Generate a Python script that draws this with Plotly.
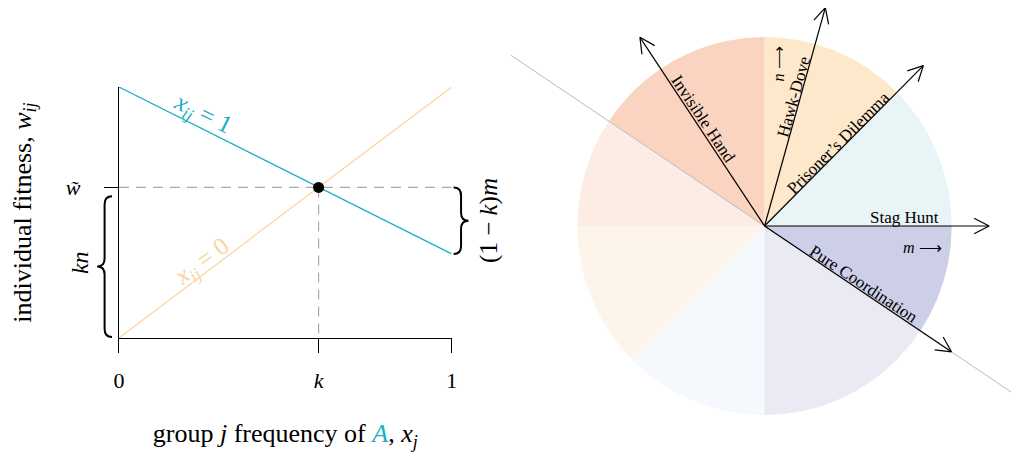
import numpy as np
import plotly.graph_objects as go

# left panel: fitness of an individual against group frequency of A
freq = [0, 1]
w_one = [1, 0.335]      # x_ij = 1
w_zero = [0, 1]         # x_ij = 0
k_star = 0.6
w_star = 0.6

# right panel: regions of the (m, n) plane
sector_from = [0, 45, 90, 146.31, 180, 225, 270, 326.31]
sector_to = [45, 90, 146.31, 180, 225, 270, 326.31, 360]
sector_colors = ["#e8f4f6", "#fde8cb", "#fbd3c1", "#fdece4",
                 "#fef5ea", "#f5f9fd", "#eaeaf5", "#cdcee8"]
games = ["Stag Hunt", "Prisoner’s Dilemma", "Hawk-Dove",
         "Invisible Hand", "Pure Coordination"]
game_angles = [0, 45, 74.3, 123.7, -33.69]
divider_angle = -33.69

W, H = 1019, 457
OFF = 8  # page body margin
CYAN = "#17b1c1"
ORANGE = "#fcd39b"
FONT = "Liberation Serif"

# pixel geometry (figure coordinates)
L0, L1, T0, B0 = 115 - OFF, 451 - OFF, 87 - OFF, 338 - OFF
sx, sy = L1 - L0, B0 - T0
CX, CY, R = 767 - OFF, 226 - OFF, 189
RX0 = 505 - OFF

fig = go.Figure()

# --- left panel ---
fig.add_trace(go.Scatter(x=freq, y=w_zero, mode="lines",
                         line=dict(color=ORANGE, width=1.2), hoverinfo="skip"))
fig.add_trace(go.Scatter(x=freq, y=w_one, mode="lines",
                         line=dict(color=CYAN, width=1.2), hoverinfo="skip"))
fig.add_trace(go.Scatter(x=[0, 1, None, k_star, k_star],
                         y=[w_star, w_star, None, w_star, 0], mode="lines",
                         line=dict(color="#a8a8a8", width=1.2, dash="10px,7px"),
                         hoverinfo="skip"))
fig.add_trace(go.Scatter(x=[k_star], y=[w_star], mode="markers",
                         marker=dict(color="black", size=11), hoverinfo="skip"))


def brace(y0, y1, x_end, x_tip, curl):
    xm = (x_end + x_tip) / 2
    ym = (y0 + y1) / 2
    return (f"M{x_end},{y1} Q{xm},{y1} {xm},{y1 - curl} L{xm},{ym + curl} "
            f"Q{xm},{ym} {x_tip},{ym} Q{xm},{ym} {xm},{ym - curl} "
            f"L{xm},{y0 + curl} Q{xm},{y0} {x_end},{y0}")


curl = 8 / sy
fig.add_shape(type="path", xref="x3", yref="y3",
              path=brace(0.004, w_star - 0.035, -7 / sx, -22 / sx, curl),
              line=dict(color="black", width=2))
fig.add_shape(type="path", xref="x3", yref="y3",
              path=brace(w_one[1], w_star, 1 + 2 / sx, 1 + 17 / sx, curl),
              line=dict(color="black", width=2))

fig.add_annotation(x=-40 / sx, y=w_star / 2, xref="x3", yref="y3",
                   text="<i>kn</i>", textangle=-90, showarrow=False,
                   font=dict(size=24))
fig.add_annotation(x=1 + 37 / sx, y=(w_one[1] + w_star) / 2, xref="x3", yref="y3",
                   text="(1 − <i>k</i>)<i>m</i>", textangle=-90, showarrow=False,
                   font=dict(size=25))

# line labels
for ys, txt, col, yshift in [(w_one, "<i>x<sub>ij</sub></i> = 1", CYAN, 14),
                             (w_zero, "<i>x<sub>ij</sub></i> = 0", ORANGE, 13)]:
    slope = (ys[1] - ys[0]) * sy / sx
    ang = -np.degrees(np.arctan(slope))
    fig.add_annotation(x=0.25, y=float(np.interp(0.25, freq, ys)), xref="x", yref="y",
                       text=txt, textangle=ang, showarrow=False, yshift=yshift,
                       font=dict(size=25, color=col))

# --- right panel ---
for a0, a1, col in zip(sector_from, sector_to, sector_colors):
    t = np.radians(np.linspace(a0, a1, 80))
    fig.add_trace(go.Scatter(x=np.r_[0, np.cos(t), 0], y=np.r_[0, np.sin(t), 0],
                             mode="lines", fill="toself", fillcolor=col,
                             line=dict(width=0), xaxis="x2", yaxis="y2",
                             hoverinfo="skip"))

d = np.radians(divider_angle)
fig.add_trace(go.Scatter(x=[-1.63 * np.cos(d), 1.9 * np.cos(d)],
                         y=[-1.63 * np.sin(d), 1.9 * np.sin(d)], mode="lines",
                         line=dict(color="#bbbbbb", width=1), xaxis="x2", yaxis="y2",
                         hoverinfo="skip"))

# arrows: shaft plus open chevron head
head_len, head_ang = 17 / R, np.radians(27)
ax_x, ax_y = [], []
for ang in game_angles:
    t = np.radians(ang)
    tx, ty = 1.2 * np.cos(t), 1.2 * np.sin(t)
    ax_x += [0, tx, None]
    ax_y += [0, ty, None]
    for s in (1, -1):
        ax_x += [tx, tx - head_len * np.cos(t + s * head_ang), None]
        ax_y += [ty, ty - head_len * np.sin(t + s * head_ang), None]
fig.add_trace(go.Scatter(x=ax_x, y=ax_y, mode="lines",
                         line=dict(color="black", width=1.2), xaxis="x2", yaxis="y2",
                         hoverinfo="skip"))

label_dist = [141, 112, 132, 123, 116]
label_off = [9, 6, 7, -8.4, 7.5]
for name, ang, dist, off in zip(games, game_angles, label_dist, label_off):
    t = np.radians(ang)
    lx = (dist * np.cos(t) - off * np.sin(t)) / R
    ly = (dist * np.sin(t) + off * np.cos(t)) / R
    rot = -ang if np.cos(t) >= 0 else 180 - ang
    fig.add_annotation(x=lx, y=ly, xref="x2", yref="y2", text=name,
                       textangle=rot, showarrow=False, font=dict(size=17))

ARROW = "⟶"
fig.add_annotation(x=14 / R, y=162 / R, xref="x2", yref="y2", text="<i>n</i> " + ARROW,
                   textangle=-90, showarrow=False, font=dict(size=16))
fig.add_annotation(x=160 / R, y=-21 / R, xref="x2", yref="y2", text="<i>m</i> " + ARROW,
                   showarrow=False, font=dict(size=16))

axis_common = dict(showgrid=False, zeroline=False, showline=True, linecolor="black",
                   linewidth=1, ticks="outside", ticklen=14, tickcolor="black",
                   tickwidth=1, tickfont=dict(size=22), fixedrange=True)

fig.update_layout(
    width=W, height=H, margin=dict(l=0, r=0, t=0, b=0),
    paper_bgcolor="white", plot_bgcolor="rgba(0,0,0,0)", showlegend=False,
    font=dict(family=FONT, size=20, color="black"),
    xaxis=dict(axis_common, domain=[L0 / W, L1 / W], range=[0, 1], anchor="y",
               tickvals=[0, k_star, 1], ticktext=["0", "<i>k</i>", "1"],
               ticklabelstandoff=9,
               title=dict(text="group <i>j</i> frequency of "
                               f"<span style='color:{CYAN}'><i>A</i></span>, <i>x<sub>j</sub></i>",
                          standoff=31, font=dict(size=26))),
    yaxis=dict(axis_common, domain=[(H - B0) / H, (H - T0) / H], range=[0, 1], anchor="x",
               tickvals=[w_star], ticktext=["<i>w̃</i>"], ticklabelstandoff=19,
               title=dict(text="individual fitness, <i>w<sub>ij</sub></i>",
                          standoff=38, font=dict(size=26))),
    xaxis2=dict(visible=False, domain=[RX0 / W, 1], anchor="y2",
                range=[(RX0 - CX) / R, (W - CX) / R], fixedrange=True),
    yaxis2=dict(visible=False, domain=[0, 1], anchor="x2",
                range=[-(H - CY) / R, CY / R], fixedrange=True),
    xaxis3=dict(visible=False, domain=[0, 490 / W], anchor="y3",
                range=[-L0 / sx, (490 - L0) / sx], fixedrange=True),
    yaxis3=dict(visible=False, domain=[0, 1], anchor="x3",
                range=[-(H - B0) / sy, B0 / sy], fixedrange=True),
)

fig.write_html("out.html")
